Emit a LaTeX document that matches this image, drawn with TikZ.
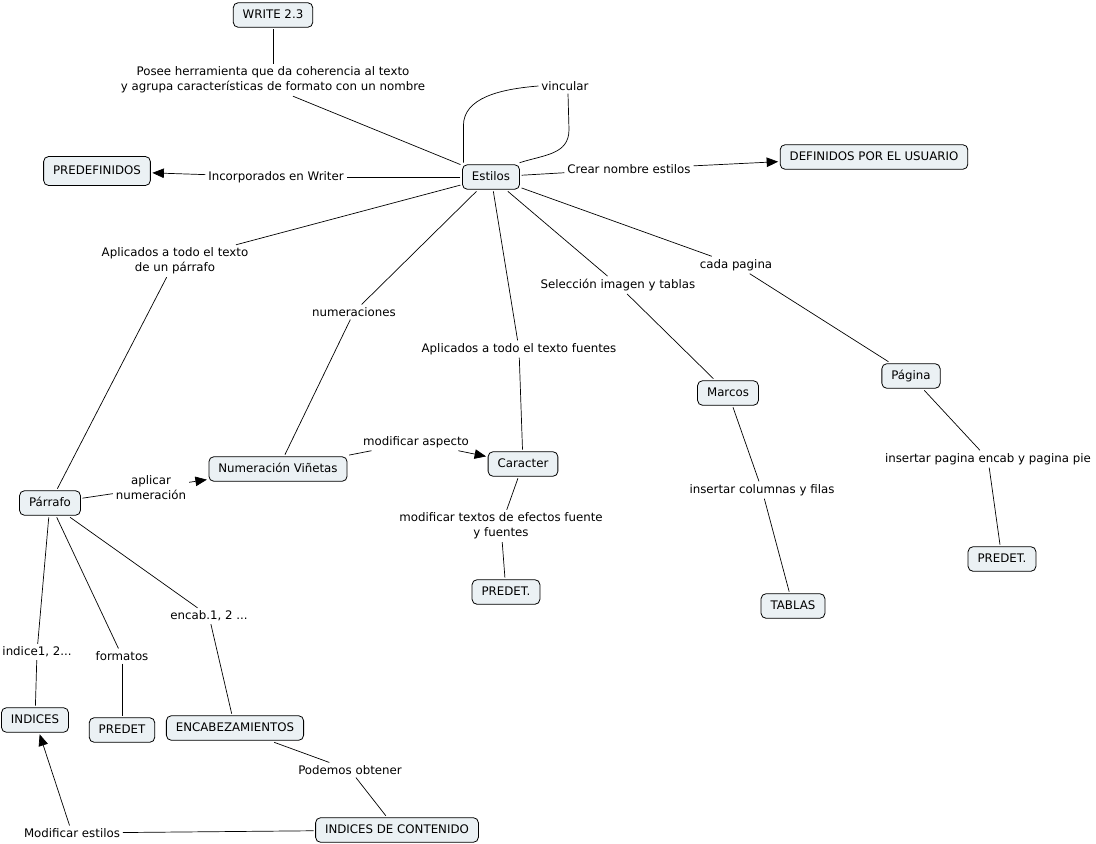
\documentclass[tikz,border=0pt]{standalone}
\usepackage{fontspec}
\setmainfont{DejaVu Sans}
\usetikzlibrary{arrows.meta}
\definecolor{cfill}{RGB}{235,241,244}
\begin{document}
\begin{tikzpicture}[x=1pt,y=-1pt,
 concept/.style={draw=black, line width=0.8pt, rounded corners=5pt, fill=cfill,
   inner xsep=9.5pt, inner ysep=6.3pt, text height=9.2pt, text depth=2.8pt, outer sep=2pt,
   font=\fontsize{11.8}{15}\selectfont},
 lbl/.style={inner sep=2.5pt, outer sep=0.5pt, font=\fontsize{11.8}{15}\selectfont, align=center},
 conn/.style={line width=0.7pt},
 arr/.style={conn, -{Triangle[length=11.5pt,width=9.5pt]}}]
\useasboundingbox (0,0) rectangle (1096,844);

% concepts
\node[concept] (write) at (273,15) {WRITE 2.3};
\node[concept] (estilos) at (491,177) {Estilos};
\node[concept, minimum height=29pt] (predef) at (97,171) {PREDEFINIDOS};
\node[concept] (defin) at (874,157) {DEFINIDOS POR EL USUARIO};
\node[concept] (marcos) at (728,393) {Marcos};
\node[concept] (pagina) at (911,376) {Página};
\node[concept] (numvin) at (278,469) {Numeración Viñetas};
\node[concept] (caract) at (523,464) {Caracter};
\node[concept] (parrafo) at (50,503) {Párrafo};
\node[concept] (predetc) at (506,592) {PREDET.};
\node[concept] (predetp) at (1002,559) {PREDET.};
\node[concept] (tablas) at (793,606) {TABLAS};
\node[concept] (indices) at (35,720) {INDICES};
\node[concept] (predet) at (122,730) {PREDET};
\node[concept] (encabz) at (235,728) {ENCABEZAMIENTOS};
\node[concept] (indcont) at (397,830) {INDICES DE CONTENIDO};

% linking phrases
\node[lbl] (posee) at (273,80) {Posee herramienta que da coherencia al texto\\y agrupa características de formato con un nombre};
\node[lbl] (vinc) at (565,86) {vincular};
\node[lbl] (incorp) at (276,177) {Incorporados en Writer};
\node[lbl] (crear) at (629,169) {Crear nombre estilos};
\node[lbl] (aplpar) at (175,261) {Aplicados a todo el texto\\de un párrafo};
\node[lbl] (numer) at (354,312) {numeraciones};
\node[lbl] (selec) at (618,285) {Selección imagen y tablas};
\node[lbl] (cada) at (736,265) {cada pagina};
\node[lbl] (aplfue) at (519,349) {Aplicados a todo el texto fuentes};
\node[lbl] (modasp) at (416,442) {modificar aspecto};
\node[lbl] (aplnum) at (151,488) {aplicar\\numeración};
\node[lbl] (inspag) at (988,459) {insertar pagina encab y pagina pie};
\node[lbl] (inscol) at (762,490) {insertar columnas y filas};
\node[lbl] (modtex) at (501,526) {modificar textos de efectos fuente\\y fuentes};
\node[lbl] (encab) at (209,616) {encab.1, 2 ...};
\node[lbl] (indice) at (37,652) {indice1, 2...};
\node[lbl] (format) at (122,656) {formatos};
\node[lbl] (podemos) at (350,770) {Podemos obtener};
\node[lbl] (modest) at (72,833) {Modificar estilos};

% connectors
\draw[conn] (write) -- (posee);
\draw[conn] (estilos) -- ([xshift=20pt]posee.south);
\draw[conn] ([xshift=3pt]estilos.north west) -- ++(0,-37) .. controls +(0,-28) and +(-38,3) .. (vinc.west);
\draw[conn] ([xshift=3pt]vinc.south) -- ++(1,36) .. controls +(0,25) and +(25,-8) .. ([xshift=-2pt]estilos.north east);
\draw[conn] (estilos) -- (incorp);
\draw[arr] (incorp) -- (predef);
\draw[conn] (estilos) -- (crear);
\draw[arr] (crear) -- (defin);
\draw[conn] (estilos) -- (aplpar);
\draw[conn] (aplpar) -- (parrafo);
\draw[conn] (estilos) -- (numer);
\draw[conn] (numer) -- (numvin);
\draw[conn] (estilos) -- (aplfue);
\draw[conn] (aplfue) -- (caract);
\draw[conn] (estilos) -- (selec);
\draw[conn] (selec) -- (marcos);
\draw[conn] (estilos) -- (cada);
\draw[conn] (cada) -- (pagina);
\draw[conn] (numvin) -- (modasp);
\draw[arr] (modasp) -- (caract);
\draw[conn] (parrafo) -- (aplnum);
\draw[arr] (aplnum) -- (numvin);
\draw[conn] (caract) -- (modtex);
\draw[conn] (modtex) -- (predetc);
\draw[conn] (marcos) -- (inscol);
\draw[conn] (inscol) -- (tablas);
\draw[conn] (pagina) -- (inspag);
\draw[conn] (inspag) -- (predetp);
\draw[conn] (parrafo) -- (indice);
\draw[conn] (indice) -- (indices);
\draw[conn] (parrafo) -- (format);
\draw[conn] (format) -- (predet);
\draw[conn] (parrafo) -- (encab);
\draw[conn] (encab) -- (encabz);
\draw[conn] (encabz) -- (podemos);
\draw[conn] (podemos) -- (indcont);
\draw[conn] (indcont) -- (modest);
\draw[arr] (modest) -- (indices);
\end{tikzpicture}
\end{document}
